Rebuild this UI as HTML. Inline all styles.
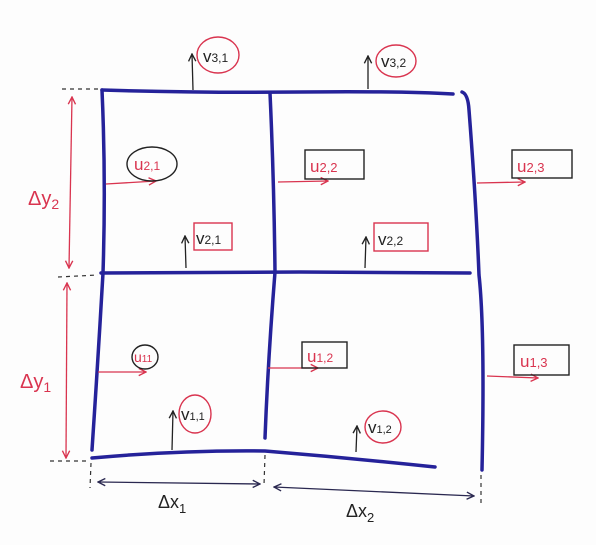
<!DOCTYPE html>
<html><head><meta charset="utf-8"><style>
html,body{margin:0;padding:0;background:#fdfdfd;width:596px;height:545px;overflow:hidden}
text{font-family:"Liberation Sans",sans-serif}
</style></head><body>
<svg width="596" height="545" viewBox="0 0 596 545" xmlns="http://www.w3.org/2000/svg">
<defs>
<marker id="ar" viewBox="0 0 10 10" refX="9" refY="5" markerWidth="7" markerHeight="7" orient="auto-start-reverse"><path d="M1,1 L9,5 L1,9" fill="none" stroke="#d9344f" stroke-width="1.5"/></marker>
<marker id="ak" viewBox="0 0 10 10" refX="9" refY="5" markerWidth="7" markerHeight="7" orient="auto-start-reverse"><path d="M1,1 L9,5 L1,9" fill="none" stroke="#222" stroke-width="1.5"/></marker>
<marker id="an" viewBox="0 0 10 10" refX="9" refY="5" markerWidth="7" markerHeight="7" orient="auto-start-reverse"><path d="M1,1 L9,5 L1,9" fill="none" stroke="#2a2850" stroke-width="1.5"/></marker>
</defs>
<g fill="none" stroke="#25229a" stroke-width="3.5" stroke-linecap="round">
<path d="M102,90 Q200,93 300,92 T453,94"/>
<path d="M102,90 Q106,180 103,273 Q98,360 92,450"/>
<path d="M101,273 L300,272 L470,273"/>
<path d="M270,93 Q274,180 275,272 Q268,360 265,438"/>
<path d="M462,92 Q468,94 469,110 Q476,200 479,275 Q485,330 482,470"/>
<path d="M92,458 Q180,450 265,451 Q350,458 435,467"/>
</g>
<g stroke="#333" stroke-width="1.2" stroke-dasharray="4,4" fill="none">
<path d="M62,89 L100,89"/><path d="M58,277 L98,275"/><path d="M50,461 L88,461"/>
<path d="M91,463 L90,488"/><path d="M265,455 L264,485"/><path d="M481,475 L481,505"/>
</g>
<g fill="none">
<path d="M72,97 L69,268" stroke="#d9344f" stroke-width="1.3" marker-start="url(#ar)" marker-end="url(#ar)"/>
<path d="M67,283 L66,458" stroke="#d9344f" stroke-width="1.3" marker-start="url(#ar)" marker-end="url(#ar)"/>
<path d="M98,482 L260,484" stroke="#2a2850" stroke-width="1.3" marker-start="url(#an)" marker-end="url(#an)"/>
<path d="M274,487 L474,496" stroke="#2a2850" stroke-width="1.3" marker-start="url(#an)" marker-end="url(#an)"/>
</g>
<text x="28" y="205" fill="#d9344f" font-size="20">Δy<tspan font-size="14" dy="4">2</tspan></text>
<text x="20" y="388" fill="#d9344f" font-size="20">Δy<tspan font-size="14" dy="4">1</tspan></text>
<text x="158" y="508" fill="#222" font-size="18">Δx<tspan font-size="13" dy="5">1</tspan></text>
<text x="346" y="517" fill="#222" font-size="18">Δx<tspan font-size="13" dy="5">2</tspan></text>
<g stroke="#d9344f" stroke-width="1.3" fill="none">
<path d="M106,184 L156,181" marker-end="url(#ar)"/>
<path d="M278,182 L328,181" marker-end="url(#ar)"/>
<path d="M477,183 L525,182" marker-end="url(#ar)"/>
<path d="M98,372 L146,372" marker-end="url(#ar)"/>
<path d="M268,368 L318,368" marker-end="url(#ar)"/>
<path d="M487,376 L538,378" marker-end="url(#ar)"/>
</g>
<g stroke="#222" stroke-width="1.3" fill="none">
<path d="M193,90 L192,54" marker-end="url(#ak)"/>
<path d="M368,89 L368,56" marker-end="url(#ak)"/>
<path d="M186,268 L185,236" marker-end="url(#ak)"/>
<path d="M365,268 L366,237" marker-end="url(#ak)"/>
<path d="M172,450 L173,411" marker-end="url(#ak)"/>
<path d="M356,452 L357,426" marker-end="url(#ak)"/>
</g>
<g font-size="17" fill="#d9344f">
<ellipse cx="218" cy="55" rx="21" ry="18" fill="none" stroke="#d9344f" stroke-width="1.4"/>
<text x="203" y="62" fill="#222">v<tspan font-size="12">3,1</tspan></text>
<ellipse cx="396" cy="61" rx="20" ry="16" fill="none" stroke="#d9344f" stroke-width="1.4"/>
<text x="381" y="67" fill="#222">v<tspan font-size="12">3,2</tspan></text>
<ellipse cx="152" cy="164" rx="25" ry="17" fill="none" stroke="#222" stroke-width="1.4"/>
<text x="134" y="170">u<tspan font-size="12">2,1</tspan></text>
<rect x="305" y="150" width="59" height="29" fill="none" stroke="#222" stroke-width="1.4"/>
<text x="310" y="172">u<tspan font-size="13">2,2</tspan></text>
<rect x="512" y="150" width="60" height="28" fill="none" stroke="#222" stroke-width="1.4"/>
<text x="517" y="172">u<tspan font-size="13">2,3</tspan></text>
<rect x="194" y="223" width="38" height="27" fill="none" stroke="#d9344f" stroke-width="1.4"/>
<text x="196" y="244" fill="#222">v<tspan font-size="12">2,1</tspan></text>
<rect x="374" y="223" width="54" height="28" fill="none" stroke="#d9344f" stroke-width="1.4"/>
<text x="378" y="245" fill="#222">v<tspan font-size="12">2,2</tspan></text>
<ellipse cx="145" cy="357" rx="13" ry="12" fill="none" stroke="#222" stroke-width="1.4"/>
<text x="134" y="362" font-size="14">u<tspan font-size="10">11</tspan></text>
<rect x="302" y="342" width="45" height="26" fill="none" stroke="#222" stroke-width="1.4"/>
<text x="307" y="362">u<tspan font-size="12">1,2</tspan></text>
<rect x="514" y="345" width="55" height="30" fill="none" stroke="#222" stroke-width="1.4"/>
<text x="520" y="367">u<tspan font-size="13">1,3</tspan></text>
<ellipse cx="195" cy="414" rx="16" ry="19" fill="none" stroke="#d9344f" stroke-width="1.4"/>
<text x="181" y="420" fill="#222">v<tspan font-size="11">1,1</tspan></text>
<ellipse cx="383" cy="427" rx="18" ry="16" fill="none" stroke="#d9344f" stroke-width="1.4"/>
<text x="368" y="433" fill="#222">v<tspan font-size="11">1,2</tspan></text>
</g>
</svg>
</body></html>
